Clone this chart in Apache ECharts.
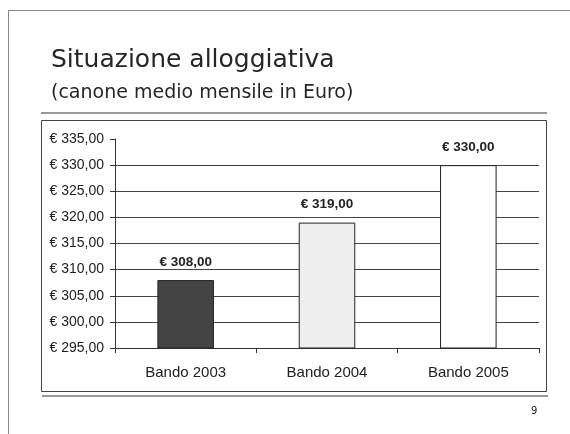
<!DOCTYPE html>
<html>
<head>
<meta charset="utf-8">
<script src="https://cdn.jsdelivr.net/npm/echarts@6/dist/echarts.min.js"></script>
<style>
  html, body { margin: 0; padding: 0; background: #ffffff; }
  #chart { width: 570px; height: 434px; }
</style>
</head>
<body>
<div id="chart"></div>
<script>
// Average monthly rent per housing call (Euro)
const categories = ['Bando 2003', 'Bando 2004', 'Bando 2005'];
const rentValues = [308, 319, 330];
const barColors = ['#444444', '#eeeeee', '#ffffff'];
const yMin = 295;
const yMax = 335;
const yStep = 5;

const euro = v => '€ ' + v.toFixed(2).replace('.', ',');

const chart = echarts.init(document.getElementById('chart'), null, { renderer: 'canvas' });

chart.setOption({
  backgroundColor: '#ffffff',
  animation: false,
  title: {
    text: 'Situazione alloggiativa',
    subtext: '(canone medio mensile in Euro)',
    left: 46,
    top: 43,
    itemGap: 11,
    textStyle: { fontFamily: 'DejaVu Sans', fontSize: 25, fontWeight: 'normal', color: '#262626' },
    subtextStyle: { fontFamily: 'DejaVu Sans', fontSize: 19, color: '#262626' }
  },
  graphic: [
    // slide frame
    { type: 'line', shape: { x1: 8, y1: 10.5, x2: 570, y2: 10.5 }, style: { stroke: '#888888', lineWidth: 1 } },
    { type: 'line', shape: { x1: 8.5, y1: 10, x2: 8.5, y2: 434 }, style: { stroke: '#888888', lineWidth: 1 } },
    // rules under the heading and above the footer
    { type: 'line', shape: { x1: 41, y1: 113, x2: 547, y2: 113 }, style: { stroke: '#999999', lineWidth: 2 } },
    { type: 'line', shape: { x1: 42, y1: 396, x2: 548, y2: 396 }, style: { stroke: '#999999', lineWidth: 2 } },
    // chart box
    { type: 'rect', shape: { x: 41.5, y: 120.5, width: 505, height: 271 }, style: { fill: 'none', stroke: '#444444', lineWidth: 1 } },
    // page number
    { type: 'text', left: 531, top: 406, style: { text: '9', fontFamily: 'DejaVu Sans', fontSize: 10, fill: '#222222' } }
  ],
  grid: { left: 115, right: 31, top: 139, bottom: 86, containLabel: false },
  xAxis: {
    type: 'category',
    data: categories,
    axisLine: { show: true, lineStyle: { color: '#333333', width: 1 } },
    axisTick: { show: true, length: 5, lineStyle: { color: '#333333' } },
    axisLabel: { fontFamily: 'Liberation Sans', fontSize: 15, color: '#222222', margin: 17 }
  },
  yAxis: {
    type: 'value',
    min: yMin,
    max: yMax,
    interval: yStep,
    axisLine: { show: true, lineStyle: { color: '#333333', width: 1 } },
    axisTick: { show: true, length: 5, lineStyle: { color: '#333333' } },
    axisLabel: { fontFamily: 'Liberation Sans', fontSize: 14, color: '#222222', margin: 11, formatter: euro },
    splitLine: { show: true, showMinLine: false, showMaxLine: false, lineStyle: { color: '#444444', width: 1 } }
  },
  series: [{
    type: 'bar',
    data: rentValues.map((v, i) => ({ value: v, itemStyle: { color: barColors[i] } })),
    barWidth: '40%',
    itemStyle: { borderColor: '#222222', borderWidth: 1 },
    label: {
      show: true,
      position: 'top',
      distance: 11,
      fontFamily: 'Liberation Sans',
      fontSize: 13.5,
      fontWeight: 'bold',
      color: '#222222',
      formatter: p => euro(p.value)
    }
  }]
});
</script>
</body>
</html>
